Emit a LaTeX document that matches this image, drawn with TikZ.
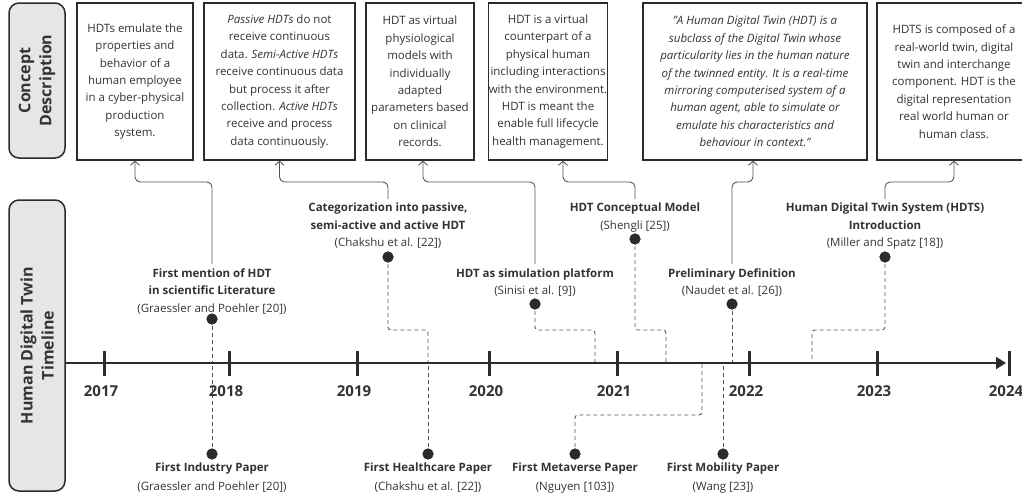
\documentclass[tikz,border=0pt]{standalone}
\usepackage{fontspec}
\setmainfont{Open Sans}
\usetikzlibrary{arrows.meta}
\definecolor{ink}{HTML}{2B2B2B}
\definecolor{txt}{HTML}{333333}
\definecolor{conn}{HTML}{555555}
\definecolor{lbl}{HTML}{E6E6E6}
\begin{document}
\begin{tikzpicture}[x=1pt,y=-1pt,
  cbox/.style={draw=ink,line width=1.3pt,fill=white,align=center,inner sep=0pt,font=\fontsize{11.5}{17.4}\selectfont,text=txt},
  side/.style={draw=ink,line width=1.5pt,fill=lbl,rounded corners=10pt,inner sep=0pt},
  sidetxt/.style={rotate=90,align=center,font=\bfseries\fontsize{16}{21}\selectfont,text=txt},
  ev/.style={align=center,inner xsep=0pt,inner ysep=4pt,anchor=north,font=\fontsize{11.5}{17.5}\selectfont,text=txt},
  dot/.style={circle,fill=ink,inner sep=0pt,minimum size=11pt},
  link/.style={draw=conn,line width=0.9pt,rounded corners=5pt,-{Straight Barb[length=4pt,width=9pt]}},
  dashln/.style={draw=conn,line width=0.9pt,dash pattern=on 4pt off 3pt,rounded corners=3pt},
  tickmark/.style={draw=ink,line width=3pt},
  year/.style={font=\bfseries\fontsize{15}{18}\selectfont,text=txt,anchor=base,inner sep=0pt}
]
\useasboundingbox (0,0) rectangle (1022,493);
\clip (0,0) rectangle (1022,493);

% side labels
\node[side,minimum width=56pt,minimum height=155pt] (s1) at (37,80.5) {};
\node[sidetxt] (s1t) at (s1) {Concept\\Description};
\node[side,minimum width=56pt,minimum height=291pt] (s2) at (37,345.5) {};
\node[sidetxt] (s2t) at (s2) {Human Digital Twin\\Timeline};

% concept boxes
\node[cbox,minimum width=116pt,minimum height=157pt] (c1) at (135,81.5)
  {HDTs emulate the\\properties and\\behavior of a\\human employee\\in a cyber-physical\\production\\system.};
\node[cbox,minimum width=151pt,minimum height=157pt] (c2) at (279.5,81.5)
  {\textit{Passive HDTs} do not\\receive continuous\\data. \textit{Semi-Active HDTs}\\receive continuous data\\but process it after\\collection. \textit{Active HDTs}\\receive and process\\data continuously.};
\node[cbox,minimum width=108pt,minimum height=157pt] (c3) at (420,81.5)
  {HDT as virtual\\physiological\\models with\\individually\\adapted\\parameters based\\on clinical\\records.};
\node[cbox,minimum width=112pt,minimum height=157pt] (c4) at (548,81.5)
  {HDT is a virtual\\counterpart of a\\physical human\\including interactions\\with the environment.\\HDT is meant the\\enable full lifecycle\\health management.};
\node[cbox,minimum width=224pt,minimum height=157pt,font=\itshape\fontsize{11.5}{17.4}\selectfont] (c5) at (755,81.5)
  {"A Human Digital Twin (HDT) is a\\subclass of the Digital Twin whose\\particularity lies in the human nature\\of the twinned entity. It is a real-time\\mirroring computerised system of a\\human agent, able to simulate or\\emulate his characteristics and\\behaviour in context."};
\node[cbox,minimum width=154pt,minimum height=157pt] (c6) at (954,81.5)
  {HDTS is composed of a\\real-world twin, digital\\twin and interchange\\component. HDT is the\\digital representation\\real world human or\\human class.};

% event labels (upper)
\node[ev] (e1) at (212,264) {\textbf{First mention of HDT}\\\textbf{in scientific Literature}\\(Graessler and Poehler [20])};
\node[ev] (e2) at (388,199) {\textbf{Categorization into passive,}\\\textbf{semi-active and active HDT}\\(Chakshu et al. [22])};
\node[ev] (e3) at (535,264) {\textbf{HDT as simulation platform}\\(Sinisi et al. [9])};
\node[ev] (e4) at (635,199) {\textbf{HDT Conceptual Model}\\(Shengli [25])};
\node[ev] (e5) at (732,264) {\textbf{Preliminary Definition}\\(Naudet et al. [26])};
\node[ev] (e6) at (885,199) {\textbf{Human Digital Twin System (HDTS)}\\\textbf{Introduction}\\(Miller and Spatz [18])};
% event labels (lower)
\node[ev,font=\fontsize{11.5}{19}\selectfont] (e7) at (212,459) {\textbf{First Industry Paper}\\(Graessler and Poehler [20])};
\node[ev,font=\fontsize{11.5}{19}\selectfont] (e8) at (428,459) {\textbf{First Healthcare Paper}\\(Chakshu et al. [22])};
\node[ev,font=\fontsize{11.5}{19}\selectfont] (e9) at (575,459) {\textbf{First Metaverse Paper}\\(Nguyen [103])};
\node[ev,font=\fontsize{11.5}{19}\selectfont] (e10) at (723,459) {\textbf{First Mobility Paper}\\(Wang [23])};

% connectors to concept boxes
\coordinate (row) at (0,182);
\draw[link] (e1.north) |- (c1.south |- row) -- (c1.south);
\draw[link] (e2.north) |- (c2.south |- row) -- (c2.south);
\draw[link] (e3.north) |- ([xshift=3pt]c3.south |- row) -- ([xshift=3pt]c3.south);
\draw[link] (e4.north) |- ([xshift=15pt]c4.south |- row) -- ([xshift=15pt]c4.south);
\draw[link] (e5.north) |- ([xshift=-2pt]c5.south |- row) -- ([xshift=-2pt]c5.south);
\draw[link] (e6.north) |- (c6.south |- row) -- (c6.south);

% axis anchors
\coordinate (a1) at (212,363);
\coordinate (a2) at (428,363);
\coordinate (a3) at (595,363);
\coordinate (a4) at (666,363);
\coordinate (a5) at (732,363);
\coordinate (a6) at (812,363);
\coordinate (a9) at (702,363);
\coordinate (a10) at (723,363);
\coordinate (drow) at (0,330);
\coordinate (mrow) at (0,415);

% dots
\node[dot] (d1) at (212,319) {};
\node[dot] (d2) at (388,257) {};
\node[dot] (d3) at (535,304) {};
\node[dot] (d4) at (635,239) {};
\node[dot] (d5) at (732,304) {};
\node[dot] (d6) at (885,257) {};
\node[dot] (d7) at (212,454) {};
\node[dot] (d8) at (428,454) {};
\node[dot] (d9) at (575,454) {};
\node[dot] (d10) at (723,454) {};

% dashed links
\draw[dashln] (d1.center) -- (a1);
\draw[dashln] (d2.center) |- (a2 |- drow) -- (a2);
\draw[dashln] (d3.center) |- (a3 |- drow) -- (a3);
\draw[dashln] (d4.center) |- (a4 |- drow) -- (a4);
\draw[dashln] (d5.center) -- (a5);
\draw[dashln] (d6.center) |- (a6 |- drow) -- (a6);
\draw[dashln] (d7.center) -- (a1);
\draw[dashln] (d8.center) -- (a2);
\draw[dashln] (d9.center) |- (a9 |- mrow) -- (a9);
\draw[dashln] (d10.center) -- (a10);

% redraw dots on top
\foreach \d in {d1,d2,d3,d4,d5,d6,d7,d8,d9,d10} {\fill[ink] (\d) circle (5.5pt);}

% axis
\coordinate (ax0) at (65,363);
\coordinate (ax1) at (1006,363);
\draw[draw=ink,line width=2pt,-{Triangle[length=10pt,width=12pt]}] (ax0) -- (ax1);
\foreach \x/\yr in {104/2017,229/2018,357/2019,489/2020,617/2021,749/2022,877/2023,1009/2024} {
  \draw[tickmark] (\x,351) -- (\x,376);
  \node[year] (y\yr) at (\x-3,396.5) {\yr};
}
\end{tikzpicture}
\end{document}
